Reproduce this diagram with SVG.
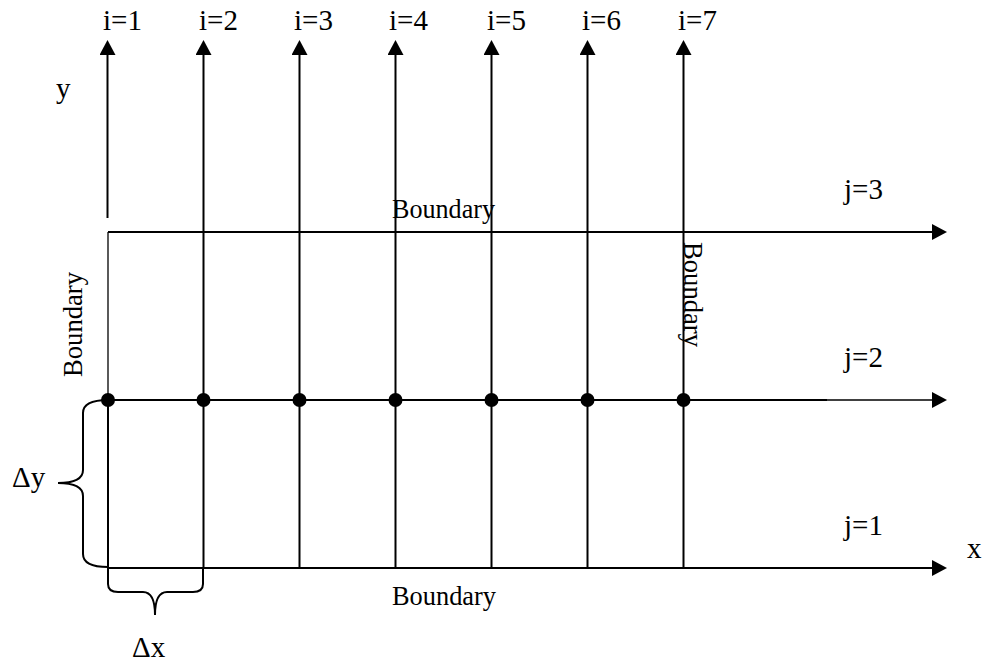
<svg xmlns="http://www.w3.org/2000/svg" width="992" height="664" viewBox="0 0 992 664">
<style>
  text { font-family: "Liberation Serif", "Times New Roman", serif; fill: #000; }
  .lbl { font-size: 29px; }
  .bnd { font-size: 27px; }
  .ln { stroke: #000; stroke-width: 2; fill: none; }
  .thin { stroke: #000; stroke-width: 1.3; fill: none; }
  .dot { fill: #000; }
</style>
<defs>
  <marker id="arr" markerUnits="userSpaceOnUse" markerWidth="16" markerHeight="16" viewBox="0 0 15 16" refX="0" refY="8" orient="auto">
    <path d="M0,0 L15,8 L0,16 Z" fill="#000"/>
  </marker>
</defs>
<rect width="992" height="664" fill="#fff"/>

<g id="connectors">
  <!-- vertical grid lines i=1..7 -->
  <line class="ln" x1="107.5" y1="218" x2="107.5" y2="55" marker-end="url(#arr)"/>
  <line class="thin" x1="108" y1="232" x2="108" y2="400"/>
  <line class="ln" x1="108" y1="400" x2="108" y2="568"/>
  <line class="ln" x1="203.5" y1="568" x2="203.5" y2="55" marker-end="url(#arr)"/>
  <line class="ln" x1="299.5" y1="568" x2="299.5" y2="55" marker-end="url(#arr)"/>
  <line class="ln" x1="395.5" y1="568" x2="395.5" y2="55" marker-end="url(#arr)"/>
  <line class="ln" x1="491.5" y1="568" x2="491.5" y2="55" marker-end="url(#arr)"/>
  <line class="ln" x1="587.5" y1="568" x2="587.5" y2="55" marker-end="url(#arr)"/>
  <line class="ln" x1="683.5" y1="568" x2="683.5" y2="55" marker-end="url(#arr)"/>
  <!-- horizontal lines j=1..3 -->
  <line class="ln" x1="107" y1="568" x2="932" y2="568" marker-end="url(#arr)"/>
  <line class="ln" x1="107" y1="400" x2="827" y2="400"/>
  <line class="thin" x1="826" y1="400" x2="932" y2="400" marker-end="url(#arr)"/>
  <line class="ln" x1="108" y1="232" x2="932" y2="232" marker-end="url(#arr)"/>
</g>

<g id="nodes">
  <g id="p1"><circle class="dot" cx="108" cy="400" r="7"/></g>
  <g id="p2"><circle class="dot" cx="203.5" cy="400" r="7"/></g>
  <g id="p3"><circle class="dot" cx="299.5" cy="400" r="7"/></g>
  <g id="p4"><circle class="dot" cx="395.5" cy="400" r="7"/></g>
  <g id="p5"><circle class="dot" cx="491.5" cy="400" r="7"/></g>
  <g id="p6"><circle class="dot" cx="587.5" cy="400" r="7"/></g>
  <g id="p7"><circle class="dot" cx="683.5" cy="400" r="7"/></g>
</g>

<g id="braces">
  <path class="ln" d="M108,400 Q83,400 83,413 L83,470 Q83,483 58,483 Q83,483 83,496 L83,554 Q83,567 108,567"/>
  <path class="ln" d="M108,567 L108,584 Q108,592 118,592 L143,592 Q155,592 155,615 Q155,592 167,592 L193,592 Q203,592 203,584 L203,567"/>
</g>

<g id="labels">
  <text class="lbl" x="103" y="30">i=1</text>
  <text class="lbl" x="199" y="30">i=2</text>
  <text class="lbl" x="294" y="30">i=3</text>
  <text class="lbl" x="389" y="30">i=4</text>
  <text class="lbl" x="487" y="30">i=5</text>
  <text class="lbl" x="582" y="30">i=6</text>
  <text class="lbl" x="678" y="30">i=7</text>
  <text class="lbl" x="56" y="98">y</text>
  <text class="lbl" x="844" y="199">j=3</text>
  <text class="lbl" x="844" y="367">j=2</text>
  <text class="lbl" x="844" y="535">j=1</text>
  <text class="lbl" x="967" y="558">x</text>
  <text class="lbl" x="12" y="487">Δy</text>
  <text class="lbl" x="132" y="657">Δx</text>
  <text class="bnd" x="392" y="218" textLength="103" lengthAdjust="spacingAndGlyphs">Boundary</text>
  <text class="bnd" x="392" y="605" textLength="104" lengthAdjust="spacingAndGlyphs">Boundary</text>
  <text class="bnd" transform="translate(82,377) rotate(-90)" textLength="105" lengthAdjust="spacingAndGlyphs">Boundary</text>
  <text class="bnd" transform="translate(684,242) rotate(90)" textLength="105" lengthAdjust="spacingAndGlyphs">Boundary</text>
</g>
</svg>
